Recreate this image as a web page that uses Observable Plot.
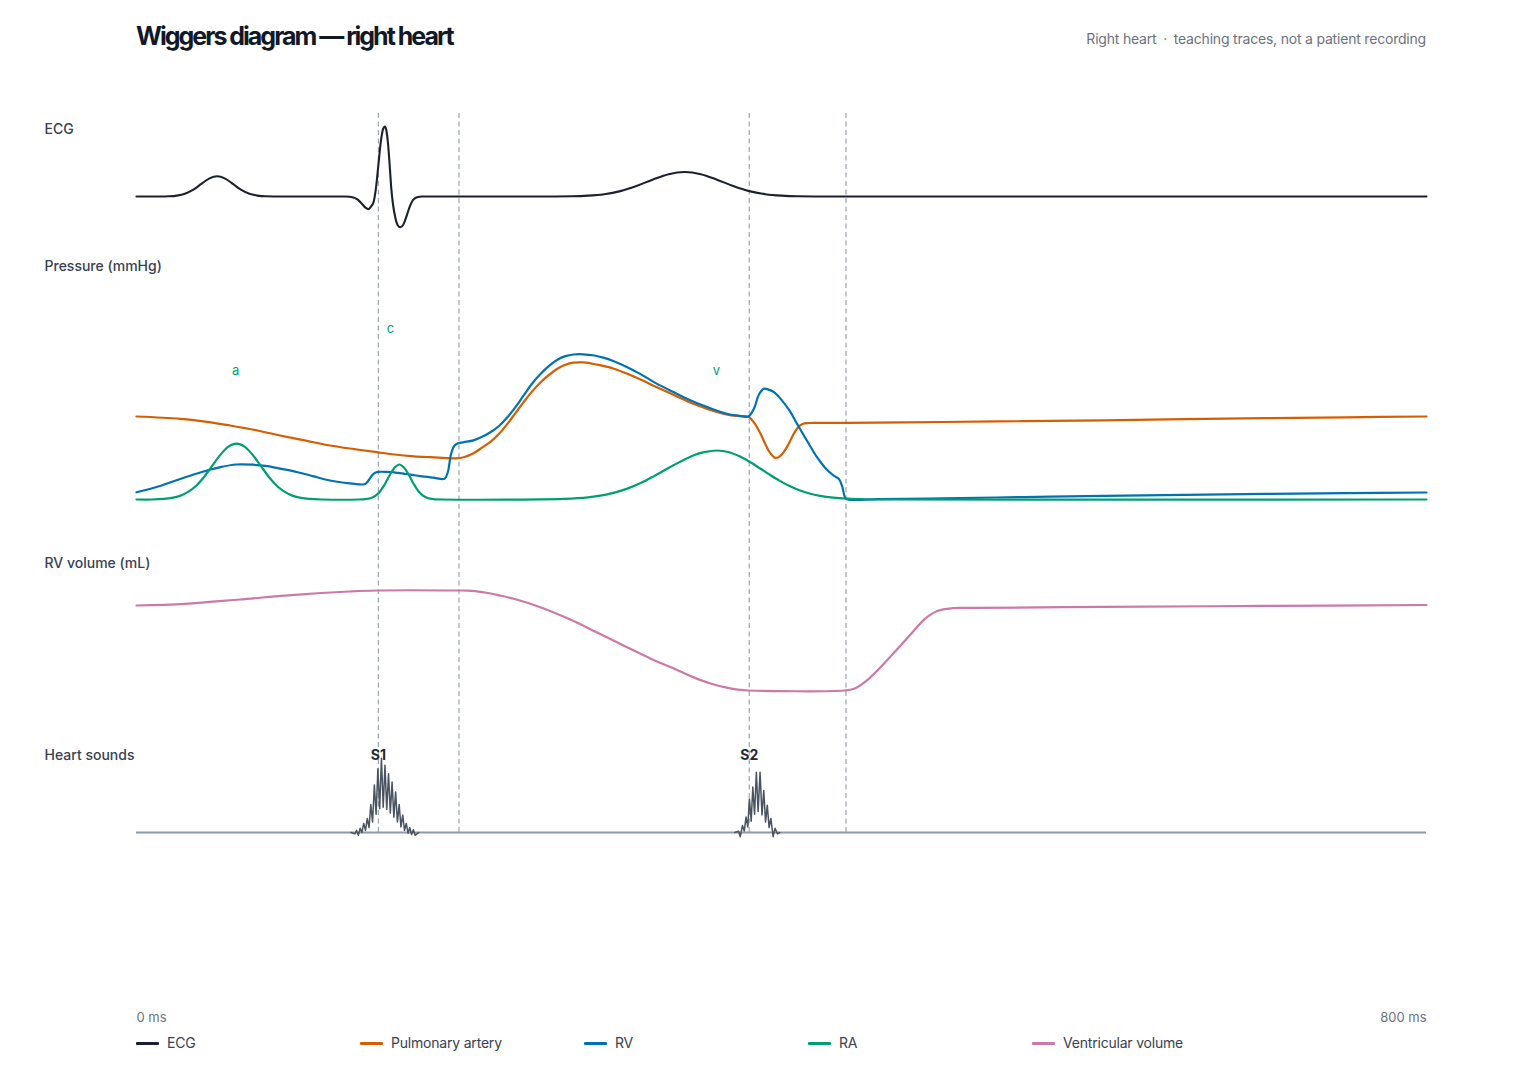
<!DOCTYPE html>
<html>
<head>
<meta charset="utf-8">
<script src="https://cdn.jsdelivr.net/npm/d3@7"></script>
<script src="https://cdn.jsdelivr.net/npm/@observablehq/plot@0.6"></script>
<style>
  html, body { margin: 0; padding: 0; background: #ffffff; }
  body { width: 1520px; height: 1080px; position: relative; font-family: Inter, "Noto Sans", sans-serif; overflow: hidden; }
  #title { position: absolute; left: 136px; top: 18px; font-size: 25px; font-weight: 700; letter-spacing: -2px; color: #111827; line-height: 36px; white-space: nowrap; }
  #subtitle { position: absolute; right: 94px; top: 29px; font-size: 14px; color: #6b7280; line-height: 20px; letter-spacing: -0.2px; white-space: nowrap; }
  #subtitle .dot { margin: 0 3px; }
  #chart { position: absolute; left: 0; top: 70px; }
  #legend { position: absolute; left: 136px; top: 1030px; height: 26px; display: flex; }
  .item { width: 224px; display: flex; align-items: center; font-size: 14px; color: #374151; line-height: 26px; letter-spacing: -0.2px; }
  .sw { width: 23px; height: 3px; margin-right: 8px; border-radius: 1px; }
</style>
</head>
<body>
<div id="title">Wiggers diagram — right heart</div>
<div id="subtitle">Right heart <span class="dot">·</span> teaching traces, not a patient recording</div>
<div id="chart"></div>
<div id="legend"></div>
<script>
// ---------- data (time in ms) ----------
const ecgT = [0, 15, 20, 25, 30, 35, 40, 45, 50, 55, 60, 65, 70, 75, 80, 90, 130, 134, 137, 140, 142, 144, 145.5, 147, 148.5, 150, 151.5, 153, 154, 155, 156, 157, 158, 159, 160.5, 162, 163.7, 165.5, 167.5, 169.5, 171.5, 174, 177, 185, 260, 270, 280, 290, 300, 310, 320, 330, 340, 350, 360, 370, 380, 390, 400, 410, 420, 440, 800];
const ecgMv = [0, 0, 0.003, 0.013, 0.039, 0.094, 0.176, 0.256, 0.29, 0.256, 0.176, 0.094, 0.039, 0.013, 0.003, 0, 0, -0.01, -0.04, -0.11, -0.16, -0.18, -0.14, -0.08, 0.12, 0.45, 0.78, 0.97, 1.0, 0.94, 0.75, 0.45, 0.12, -0.1, -0.3, -0.41, -0.44, -0.4, -0.28, -0.14, -0.05, -0.01, 0, 0, 0.001, 0.003, 0.012, 0.033, 0.077, 0.15, 0.24, 0.319, 0.35, 0.319, 0.24, 0.15, 0.077, 0.033, 0.012, 0.003, 0.001, 0, 0];

const paT = [0, 27, 45, 58, 75, 89, 105, 120, 135, 149, 160, 172, 182, 190, 198, 203, 209, 214, 219.5, 225, 230, 235, 240, 245, 250.5, 256, 261, 266, 271, 277, 281.5, 288, 296, 304, 312.6, 322, 333, 343, 354, 361, 368, 374, 379.5, 383, 387, 390, 392, 394, 396, 398.5, 401.4, 404.5, 407.6, 410.5, 413, 417, 422, 440, 500, 550, 600, 650, 700, 750, 800];
const paP = [14.83, 14.45, 13.9, 13.33, 12.5, 11.67, 10.8, 10.0, 9.4, 8.9, 8.5, 8.2, 8.05, 7.95, 7.85, 8.05, 8.7, 9.6, 10.6, 12.0, 13.6, 15.4, 17.2, 18.9, 20.5, 21.8, 22.8, 23.45, 23.8, 23.85, 23.7, 23.35, 22.8, 22.0, 21.0, 19.8, 18.45, 17.2, 16.1, 15.5, 15.05, 14.9, 14.8, 13.8, 11.95, 10.2, 9.17, 8.4, 7.94, 8.1, 8.9, 10.3, 11.95, 13.1, 13.6, 13.75, 13.78, 13.78, 13.92, 14.05, 14.2, 14.38, 14.55, 14.7, 14.83];

const rvT = [0, 14, 28, 40, 52, 62, 72, 80, 90, 100, 110, 120, 130, 140, 142, 144, 146, 148, 150, 155, 162, 170, 176, 184, 191, 193, 195, 197, 199, 203, 209, 214, 219.5, 225, 230, 235, 240, 245, 250.5, 256, 261, 266, 271, 277, 284, 290, 296, 304, 312.6, 322, 333, 343, 354, 361, 368, 374, 379.5, 383, 386, 389, 391, 395.3, 400, 405, 409.7, 416, 422, 427, 432.3, 435.5, 437.5, 439.5, 441, 460, 500, 550, 600, 650, 700, 750, 800];
const rvP = [2.2, 3.2, 4.5, 5.55, 6.4, 6.83, 6.8, 6.6, 6.1, 5.55, 4.85, 4.17, 3.75, 3.5, 3.6, 4.2, 5.0, 5.45, 5.6, 5.6, 5.45, 5.15, 4.9, 4.65, 4.45, 5.5, 8.5, 9.9, 10.35, 10.55, 10.85, 11.4, 12.2, 13.3, 14.7, 16.4, 18.3, 20.2, 21.9, 23.3, 24.3, 24.9, 25.17, 25.2, 25.0, 24.6, 24.05, 23.1, 21.9, 20.4, 18.9, 17.6, 16.4, 15.7, 15.17, 14.95, 14.83, 16.2, 18.5, 19.45, 19.4, 18.9, 17.6, 15.8, 13.6, 10.7, 8.05, 6.3, 5.0, 4.45, 3.3, 1.3, 1.0, 1.05, 1.2, 1.4, 1.6, 1.78, 1.94, 2.07, 2.17];

const raT = [0, 10, 17, 22, 27, 32, 37, 42, 47, 52, 57, 62, 67, 72, 77, 82, 87, 92, 97, 102, 107, 115, 138, 142, 145, 148, 151, 154, 157, 160, 163, 166, 169, 172, 175, 178, 181, 184, 190, 250, 265, 280, 292, 304, 313, 321, 333, 346, 352, 360, 367, 374, 380, 387, 393, 399, 405, 412, 418, 424, 432, 440, 450, 460, 800];
const raP = [1.0, 1.0, 1.1, 1.27, 1.6, 2.26, 3.3, 4.8, 6.64, 8.44, 9.8, 10.3, 9.8, 8.44, 6.64, 4.8, 3.3, 2.26, 1.6, 1.27, 1.1, 1.0, 1.0, 1.07, 1.2, 1.58, 2.34, 3.55, 5.04, 6.3, 6.83, 6.3, 5.04, 3.55, 2.34, 1.58, 1.2, 1.07, 1.0, 1.02, 1.1, 1.36, 1.85, 2.77, 3.78, 4.9, 6.72, 8.43, 8.9, 9.17, 8.92, 8.2, 7.33, 6.13, 5.08, 4.1, 3.25, 2.45, 1.96, 1.6, 1.3, 1.14, 1.05, 1.0, 1.0];

const volT = [0, 30, 64, 98, 132, 149, 199.5, 205, 210, 217, 225, 234, 250, 268, 285, 302, 319, 336, 346, 356.5, 366, 373, 379.5, 439, 445, 451.6, 462, 472, 481, 489, 497, 506, 520, 600, 700, 800];
const volMl = [119.5, 120.7, 123.7, 127, 129.3, 130, 130, 129.9, 129.5, 128.4, 126.6, 124.2, 118.5, 110.2, 101, 91.5, 82.3, 74, 69, 64.7, 62, 60.6, 60, 60, 61.2, 65.8, 77, 89.2, 100.5, 110.2, 115.8, 117.6, 117.8, 118.5, 119.2, 119.85];

const s1T = [133, 135.4, 136.5, 137.6, 138.7, 139.8, 140.9, 142, 143.1, 144.2, 145.3, 146.4, 147.5, 148.6, 149.7, 150.8, 151.9, 153, 154.1, 155.2, 156.3, 157.4, 158.5, 159.6, 160.7, 161.8, 162.9, 164, 165.1, 166.2, 167.3, 168.4, 169.5, 170.6, 171.7, 172.8, 175];
const s1A = [0, -0.02, 0.03, -0.04, 0.06, 0.0, 0.13, 0.03, 0.2, 0.07, 0.4, 0.15, 0.68, 0.26, 0.91, 0.34, 1.06, 0.36, 0.96, 0.33, 0.84, 0.28, 0.72, 0.22, 0.58, 0.15, 0.4, 0.08, 0.25, 0.03, 0.13, -0.01, 0.07, -0.03, 0.04, -0.04, 0];

const s2T = [371, 373.4, 374.4, 375.8, 376.9, 378, 379.1, 380.1, 381.2, 382.2, 383.3, 384.4, 385.5, 386.7, 387.9, 389, 390.1, 391.2, 392.3, 393.4, 394.8, 396, 397.5, 399];
const s2A = [0, 0.02, -0.06, 0.1, 0.02, 0.22, 0.08, 0.48, 0.16, 0.65, 0.26, 0.86, 0.3, 0.86, 0.25, 0.6, 0.15, 0.39, 0.07, 0.2, -0.06, 0.06, -0.02, 0];

const events = [150, 200, 380, 440];
const soundNames = ["S1", "S2"];
const soundAt = [150, 380];
const waveNames = ["a", "c", "v"];
const waveT = [61.5, 157.5, 359.7];
const waveP = [22.5, 29.5, 22.5];

const seriesNames = ["ECG", "Pulmonary artery", "RV", "RA", "Ventricular volume"];
const seriesColors = ["#1b2030", "#d55e00", "#0072b2", "#009e73", "#cc79a7"];
const panelNames = ["ECG", "Pressure (mmHg)", "RV volume (mL)", "Heart sounds"];

// ---------- layout: each panel maps its own unit onto a band of the shared y scale ----------
const H = 960;
const panels = {
  ecg:      d3.scaleLinear([-0.5, 1.0], [161, 56]),
  pressure: d3.scaleLinear([0, 25], [435, 285]),
  volume:   d3.scaleLinear([60, 130], [620, 520]),
  sounds:   d3.scaleLinear([0, 1], [762, 692])
};
const panelLabelY = [59, 196, 493, 685];
const eventSpan = [43, 762];
const axisLabelY = 947;
const soundLabelY = 685;

const zip = (ts, vs) => ts.map((t, i) => ({t, v: vs[i]}));
const ecg = zip(ecgT, ecgMv);
const pa = zip(paT, paP);
const rv = zip(rvT, rvP);
const ra = zip(raT, raP);
const vol = zip(volT, volMl);
const s1 = zip(s1T, s1A);
const s2 = zip(s2T, s2A);
const waves = waveNames.map((n, i) => ({n, t: waveT[i], p: waveP[i]}));
const sounds = soundNames.map((n, i) => ({n, t: soundAt[i]}));
const panelLabels = panelNames.map((n, i) => ({n, y: panelLabelY[i]}));

const lineOpts = (panel, color, w = 2.2, curve = "catmull-rom") => ({
  x: "t", y: d => panels[panel](d.v), stroke: color, strokeWidth: w, curve, strokeLinejoin: "round", strokeLinecap: "round"
});

const chart = Plot.plot({
  width: 1520,
  height: H,
  marginLeft: 136,
  marginRight: 94,
  marginTop: 0,
  marginBottom: 0,
  x: {domain: [0, 800]},
  y: {domain: [0, H], range: [0, H]},
  axis: null,
  style: {fontFamily: "Inter, 'Noto Sans', sans-serif", background: "transparent", overflow: "visible"},
  marks: [
    Plot.ruleX(events, {x: d => d, y1: eventSpan[0], y2: eventSpan[1], stroke: "#9aa5b1", strokeWidth: 1.2, strokeDasharray: "5,3.5"}),
    Plot.ruleY([0], {y: d => panels.sounds(d), stroke: "#8e99a6", strokeWidth: 2}),
    Plot.line(ecg, lineOpts("ecg", seriesColors[0], 2.1, "monotone-x")),
    Plot.line(pa, lineOpts("pressure", seriesColors[1])),
    Plot.line(rv, lineOpts("pressure", seriesColors[2])),
    Plot.line(ra, lineOpts("pressure", seriesColors[3])),
    Plot.line(vol, lineOpts("volume", seriesColors[4])),
    Plot.line(s1, {x: "t", y: d => panels.sounds(d.v), stroke: "#4a5361", strokeWidth: 1.5, curve: "linear"}),
    Plot.line(s2, {x: "t", y: d => panels.sounds(d.v), stroke: "#4a5361", strokeWidth: 1.5, curve: "linear"}),
    Plot.text(waves, {x: "t", y: d => panels.pressure(d.p), text: "n", fill: seriesColors[3], fontSize: 13}),
    Plot.text(sounds, {x: "t", y: soundLabelY, text: "n", fill: "#1f2937", fontSize: 14, fontWeight: 700}),
    Plot.text(panelLabels, {y: "y", text: "n", frameAnchor: "left", dx: -92, textAnchor: "start", fill: "#374151", fontSize: 14, fontWeight: 500}),
    Plot.text([0], {x: d => d, y: axisLabelY, text: d => `${d} ms`, textAnchor: "start", fill: "#6b7280", fontSize: 13}),
    Plot.text([800], {x: d => d, y: axisLabelY, text: d => `${d} ms`, textAnchor: "end", fill: "#6b7280", fontSize: 13})
  ]
});
document.getElementById("chart").appendChild(chart);

const legend = document.getElementById("legend");
seriesNames.forEach((n, i) => {
  const item = document.createElement("div");
  item.className = "item";
  const sw = document.createElement("span");
  sw.className = "sw";
  sw.style.background = seriesColors[i];
  const lab = document.createElement("span");
  lab.textContent = n;
  item.appendChild(sw);
  item.appendChild(lab);
  legend.appendChild(item);
});
</script>
</body>
</html>
